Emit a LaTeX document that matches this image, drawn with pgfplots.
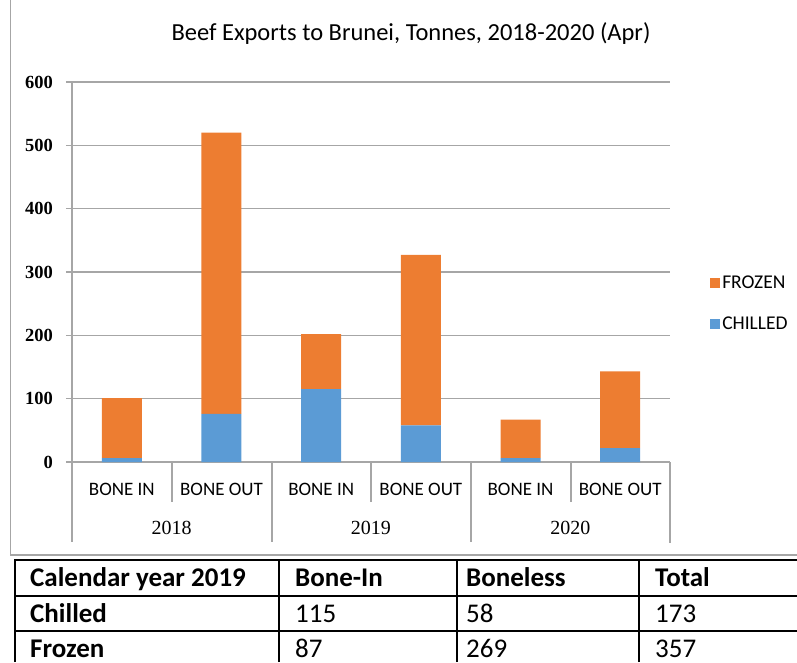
\documentclass[border=0pt]{standalone}
\usepackage{pgfplots}
\pgfplotsset{compat=1.18}
\usepackage{fontspec}
\setmainfont{Carlito}
\newfontfamily\numfont{Liberation Serif}
\definecolor{frozen}{HTML}{ED7D31}
\definecolor{chilled}{HTML}{5B9BD5}
\definecolor{gridgray}{HTML}{A6A6A6}
\newcommand{\titlefont}{\fontsize{24.5}{24.5}\selectfont}
\newcommand{\catfont}{\fontsize{19}{19}\selectfont}
\newcommand{\yearfont}{\numfont\fontsize{20}{20}\selectfont}
\newcommand{\tickfont}{\numfont\bfseries\fontsize{18.5}{18.5}\selectfont}
\newcommand{\legfont}{\fontsize{19.5}{19.5}\selectfont}
\newcommand{\tabfont}{\fontsize{27}{27}\selectfont}
\begin{document}
\begin{tikzpicture}
\useasboundingbox (0pt,0pt) rectangle (797pt,662pt);
% outer chart frame
\draw[gridgray, line width=1.2pt] (10.7pt,662pt) -- (10.7pt,107pt) -- (797pt,107pt);
\begin{axis}[
  at={(121.83pt,200pt)}, anchor=origin,
  scale only axis, width=598pt, height=380pt,
  xmin=-0.5, xmax=5.5, ymin=0, ymax=600,
  ybar stacked, bar width=40pt,
  xtick=\empty,
  ytick={0,100,200,300,400,500,600},
  ymajorgrids, grid style={gridgray, line width=1.2pt},
  axis line style={draw=none},
  tick align=outside, major tick length=6pt, tick pos=left,
  ytick style={gridgray, line width=1.2pt},
  yticklabel style={font=\tickfont, anchor=east, inner sep=0pt, xshift=-13pt},
  /pgf/number format/assume math mode=true,
  clip=false,
  reverse legend,
  legend image code/.code={\fill[#1] (0pt,-5pt) rectangle (10pt,5pt);},
  legend style={at={(1.067,0.417)}, anchor=west, draw=none, fill=none,
    font=\legfont, row sep=23pt, inner sep=0pt,
    nodes={inner sep=2pt}},
  legend cell align=left,
]
\addplot[fill=chilled, draw=none] coordinates {(0,6) (1,76) (2,115) (3,58) (4,6) (5,22)};
\addlegendentry{CHILLED}
\addplot[fill=frozen, draw=none] coordinates {(0,95) (1,444) (2,87) (3,269) (4,61) (5,121)};
\addlegendentry{FROZEN}
\node[font=\catfont, anchor=base, yshift=-33pt] at (axis cs:0,0) {BONE IN};
\node[font=\catfont, anchor=base, yshift=-33pt] at (axis cs:1,0) {BONE OUT};
\node[font=\catfont, anchor=base, yshift=-33pt] at (axis cs:2,0) {BONE IN};
\node[font=\catfont, anchor=base, yshift=-33pt] at (axis cs:3,0) {BONE OUT};
\node[font=\catfont, anchor=base, yshift=-33pt] at (axis cs:4,0) {BONE IN};
\node[font=\catfont, anchor=base, yshift=-33pt] at (axis cs:5,0) {BONE OUT};
\node[font=\yearfont, anchor=base, yshift=-72pt] at (axis cs:0.5,0) {2018};
\node[font=\yearfont, anchor=base, yshift=-72pt] at (axis cs:2.5,0) {2019};
\node[font=\yearfont, anchor=base, yshift=-72pt] at (axis cs:4.5,0) {2020};
\end{axis}
% axis and category separator lines
\draw[gridgray, line width=1.2pt] (72pt,580pt) -- (72pt,120pt);
\draw[gridgray, line width=1.2pt] (670pt,200pt) -- (670pt,119pt);
\draw[gridgray, line width=1.2pt] (272pt,200pt) -- (272pt,120pt);
\draw[gridgray, line width=1.2pt] (471pt,200pt) -- (471pt,120pt);
\draw[gridgray, line width=1.2pt] (172pt,200pt) -- (172pt,160pt);
\draw[gridgray, line width=1.2pt] (371pt,200pt) -- (371pt,160pt);
\draw[gridgray, line width=1.2pt] (571pt,200pt) -- (571pt,160pt);
% title
\node[font=\titlefont, anchor=base] at (411pt,621pt) {Beef Exports to Brunei, Tonnes, 2018-2020 (Apr)};
% table
\draw[black, line width=2pt] (14.7pt,0pt) -- (14.7pt,102.5pt) -- (797pt,102.5pt);
\draw[black, line width=2pt] (14.7pt,66pt) -- (797pt,66pt);
\draw[black, line width=2pt] (14.7pt,31pt) -- (797pt,31pt);
\draw[black, line width=2pt] (279pt,0pt) -- (279pt,102.5pt);
\draw[black, line width=2pt] (457pt,0pt) -- (457pt,102.5pt);
\draw[black, line width=2pt] (639pt,0pt) -- (639pt,102.5pt);
\node[font=\tabfont\bfseries, anchor=base west, inner sep=0pt] at (30pt,75.3pt) {Calendar year 2019};
\node[font=\tabfont\bfseries, anchor=base west, inner sep=0pt] at (295pt,75.3pt) {Bone-In};
\node[font=\tabfont\bfseries, anchor=base west, inner sep=0pt] at (466pt,75.3pt) {Boneless};
\node[font=\tabfont\bfseries, anchor=base west, inner sep=0pt] at (655pt,75.3pt) {Total};
\node[font=\tabfont\bfseries, anchor=base west, inner sep=0pt] at (30pt,39.3pt) {Chilled};
\node[font=\tabfont, anchor=base west, inner sep=0pt] at (295pt,39.3pt) {115};
\node[font=\tabfont, anchor=base west, inner sep=0pt] at (466pt,39.3pt) {58};
\node[font=\tabfont, anchor=base west, inner sep=0pt] at (655pt,39.3pt) {173};
\node[font=\tabfont\bfseries, anchor=base west, inner sep=0pt] at (30pt,4.7pt) {Frozen};
\node[font=\tabfont, anchor=base west, inner sep=0pt] at (295pt,4.7pt) {87};
\node[font=\tabfont, anchor=base west, inner sep=0pt] at (466pt,4.7pt) {269};
\node[font=\tabfont, anchor=base west, inner sep=0pt] at (655pt,4.7pt) {357};
\end{tikzpicture}
\end{document}
